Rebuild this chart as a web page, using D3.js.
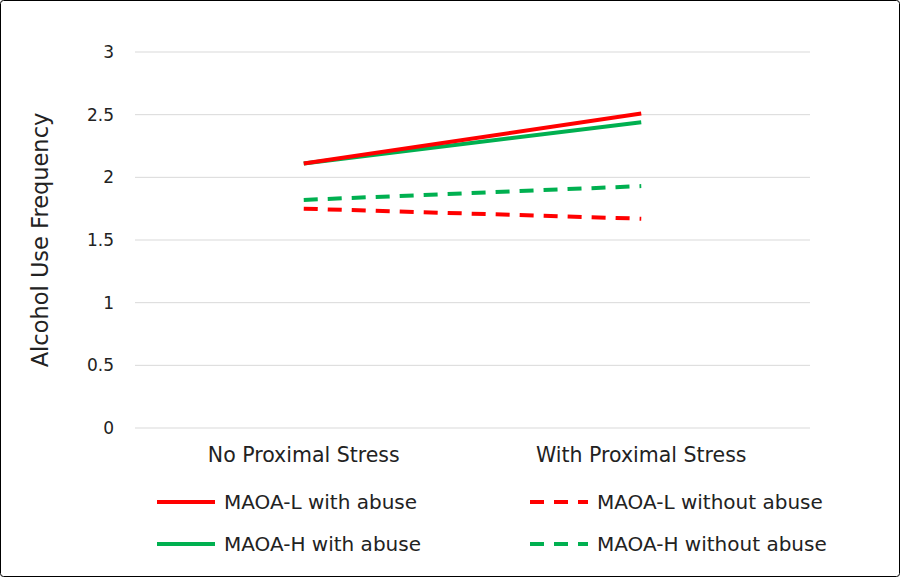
<!DOCTYPE html>
<html>
<head>
<meta charset="utf-8">
<script src="https://cdn.jsdelivr.net/npm/d3@7"></script>
<style>
  body { margin: 0; background: #fff; }
  text { font-family: "DejaVu Sans", "Open Sans", sans-serif; fill: #222; }
</style>
</head>
<body>
<script>
const categories = ["No Proximal Stress", "With Proximal Stress"];
const yTicks = [0, 0.5, 1, 1.5, 2, 2.5, 3];
const seriesNames = ["MAOA-L with abuse", "MAOA-H with abuse", "MAOA-L without abuse", "MAOA-H without abuse"];
const maoaLAbuse = [2.11, 2.51];
const maoaHAbuse = [2.11, 2.44];
const maoaLNoAbuse = [1.75, 1.67];
const maoaHNoAbuse = [1.82, 1.93];

const series = [
  { name: seriesNames[0], values: maoaLAbuse, color: "#ff0000", dash: null },
  { name: seriesNames[1], values: maoaHAbuse, color: "#00b050", dash: null },
  { name: seriesNames[2], values: maoaLNoAbuse, color: "#ff0000", dash: "14,10" },
  { name: seriesNames[3], values: maoaHNoAbuse, color: "#00b050", dash: "14,10" }
];

const width = 900, height = 577;
let svg = d3.select("body").append("svg")
    .attr("width", width).attr("height", height);

svg.append("rect").attr("x", 0.5).attr("y", 0.5)
    .attr("width", width - 1).attr("height", height - 1)
    .attr("rx", 3).attr("fill", "none").attr("stroke", "#000");

let x = d3.scaleBand().domain(categories).range([135, 810]);
let y = d3.scaleLinear().domain([0, 3]).range([428, 52]);

// gridlines
svg.append("g").selectAll("line").data(yTicks).enter().append("line")
    .attr("x1", 135).attr("x2", 810)
    .attr("y1", d => y(d)).attr("y2", d => y(d))
    .attr("stroke", "#d9d9d9").attr("stroke-width", 1);

let yAxis = svg.append("g").attr("transform", "translate(135,0)")
    .call(d3.axisLeft(y).tickValues(yTicks).tickSize(0).tickPadding(21).tickFormat(d3.format("")));
yAxis.select(".domain").remove();
yAxis.selectAll("text").style("font-size", "17px").attr("fill", "#222");

let xAxis = svg.append("g").attr("transform", "translate(0,428)")
    .call(d3.axisBottom(x).tickSize(0).tickPadding(19));
xAxis.select(".domain").remove();
xAxis.selectAll("text").style("font-size", "20.5px").attr("fill", "#222");

svg.append("text")
    .attr("transform", "translate(48,240) rotate(-90)")
    .attr("text-anchor", "middle")
    .style("font-size", "22.5px")
    .text("Alcohol Use Frequency");

let line = d3.line()
    .x((d, i) => x(categories[i]) + x.bandwidth() / 2)
    .y(d => y(d));

svg.append("g").selectAll("path").data(series.slice().reverse()).enter().append("path")
    .attr("d", d => line(d.values))
    .attr("fill", "none")
    .attr("stroke", d => d.color)
    .attr("stroke-width", 4)
    .attr("stroke-dasharray", d => d.dash);

// legend
const legendPos = [[157, 502], [157, 544], [530, 502], [530, 544]];
let legend = svg.append("g").selectAll("g").data(series).enter().append("g")
    .attr("transform", (d, i) => `translate(${legendPos[i][0]},${legendPos[i][1]})`);
legend.append("line")
    .attr("x1", 0).attr("x2", 58)
    .attr("stroke", d => d.color).attr("stroke-width", 4)
    .attr("stroke-dasharray", d => d.dash);
legend.append("text")
    .attr("x", 67).attr("dy", "0.35em")
    .style("font-size", "20px")
    .text(d => d.name);
</script>
</body>
</html>
